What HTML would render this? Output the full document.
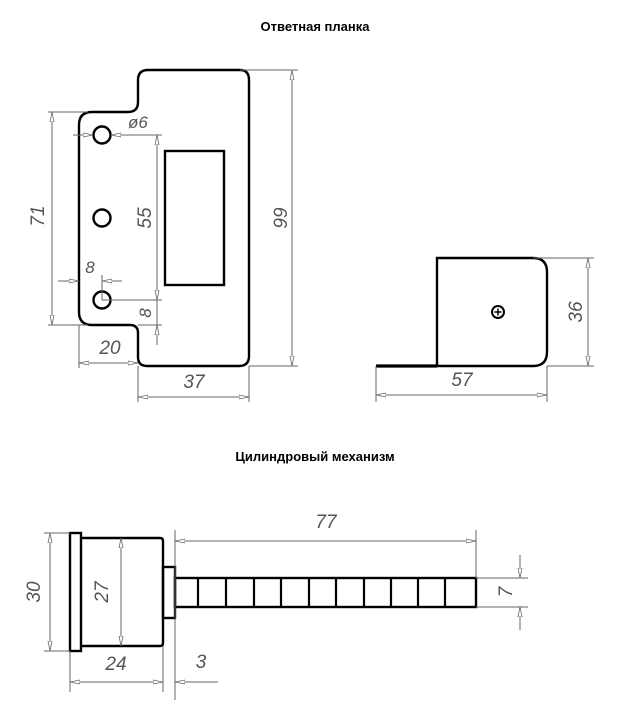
<!DOCTYPE html>
<html><head><meta charset="utf-8"><style>
html,body{margin:0;padding:0;background:#fff;}
svg{display:block;}
.t{font-family:"Liberation Sans",sans-serif;font-weight:bold;font-size:13px;fill:#000;}
.d{font-family:"Liberation Sans",sans-serif;font-style:italic;font-size:19px;fill:#555;}
.o{fill:none;stroke:#000;stroke-width:2.4;}
.l{fill:none;stroke:#666;stroke-width:1;}
</style></head><body>
<svg width="626" height="720" viewBox="0 0 626 720">
<defs>
<marker id="a" viewBox="0 0 10 6" refX="10" refY="3" markerWidth="10" markerHeight="6" orient="auto-start-reverse" markerUnits="userSpaceOnUse"><path d="M0,1 L10,3 L0,5 Z" fill="#fff" stroke="#666" stroke-width="0.8"/></marker>
</defs>
<text class="t" x="315" y="31" text-anchor="middle">Ответная планка</text>
<text class="t" x="315" y="461" text-anchor="middle">Цилиндровый механизм</text>

<!-- plate -->
<path class="o" d="M148,70 L240,70 Q249,70 249,80 L249,356 Q249,366 239,366 L147,366 Q138,366 138,357 L138,333 Q138,325 130,325 L92,325 Q79,325 79,312 L79,125 Q79,112 92,112 L128,112 Q138,112 138,102 L138,80 Q138,70 148,70 Z"/>
<circle class="o" cx="102" cy="135" r="8.5"/>
<circle class="o" cx="102" cy="218" r="8.5"/>
<circle class="o" cx="102" cy="300" r="8.5"/>
<rect class="o" x="165" y="151" width="59" height="134"/>
<!-- 71 -->
<path class="l" d="M48,112 H88 M48,325 H88"/>
<line class="l" x1="52" y1="112" x2="52" y2="325" marker-start="url(#a)" marker-end="url(#a)"/>
<text class="d" transform="translate(44,216) rotate(-90)" text-anchor="middle">71</text>
<!-- Ø6 -->
<line class="l" x1="73" y1="135" x2="93" y2="135" marker-end="url(#a)"/>
<line class="l" x1="111" y1="135" x2="162" y2="135" marker-start="url(#a)"/>
<text class="d" x="128" y="128" style="font-size:17px">ø6</text>
<!-- 55 -->
<path class="l" d="M102,300 H162"/>
<line class="l" x1="157" y1="135" x2="157" y2="300" marker-start="url(#a)" marker-end="url(#a)"/>
<text class="d" transform="translate(151,218) rotate(-90)" text-anchor="middle">55</text>
<!-- 8 vertical -->
<path class="l" d="M138,325 H162 M157,300 V345"/>
<line class="l" x1="157" y1="345" x2="157" y2="325" marker-end="url(#a)"/>
<text class="d" transform="translate(151,313) rotate(-90)" text-anchor="middle" style="font-size:17px">8</text>
<!-- 8 horizontal -->
<line class="l" x1="58" y1="281" x2="79" y2="281" marker-end="url(#a)"/>
<line class="l" x1="122" y1="281" x2="102" y2="281" marker-end="url(#a)"/>
<path class="l" d="M102,275 V300"/>
<text class="d" x="90" y="273" text-anchor="middle" style="font-size:17px">8</text>
<!-- 20 -->
<path class="l" d="M79,325 V368"/>
<line class="l" x1="79" y1="363" x2="138" y2="363" marker-start="url(#a)" marker-end="url(#a)"/>
<text class="d" x="110" y="354" text-anchor="middle">20</text>
<!-- 37 -->
<path class="l" d="M138,366 V402 M249,366 V402"/>
<line class="l" x1="138" y1="397" x2="249" y2="397" marker-start="url(#a)" marker-end="url(#a)"/>
<text class="d" x="194" y="388" text-anchor="middle">37</text>
<!-- 99 -->
<path class="l" d="M240,70 H298 M249,366 H298"/>
<line class="l" x1="292" y1="70" x2="292" y2="366" marker-start="url(#a)" marker-end="url(#a)"/>
<text class="d" transform="translate(287,218) rotate(-90)" text-anchor="middle">99</text>

<!-- side view -->
<path class="o" d="M437,366 V258 H533 Q547,258 547,272 V352 Q547,366 533,366 H437"/>
<line x1="376" y1="366" x2="437" y2="366" stroke="#000" stroke-width="3.2"/>
<circle cx="498" cy="312" r="6" fill="none" stroke="#000" stroke-width="2"/>
<path d="M494.5,312 H501.5 M498,308.5 V315.5" stroke="#000" stroke-width="1.5"/>
<path class="l" d="M533,258 H594 M547,366 H594"/>
<line class="l" x1="588" y1="258" x2="588" y2="366" marker-start="url(#a)" marker-end="url(#a)"/>
<text class="d" transform="translate(582,312) rotate(-90)" text-anchor="middle">36</text>
<path class="l" d="M376,366 V402 M547,366 V402"/>
<line class="l" x1="376" y1="395" x2="547" y2="395" marker-start="url(#a)" marker-end="url(#a)"/>
<text class="d" x="462" y="386" text-anchor="middle">57</text>

<!-- cylinder -->
<rect class="o" x="70" y="533" width="11" height="118"/>
<path class="o" d="M81,538 H160 Q163,538 163,541 V643 Q163,646 160,646 H81"/>
<rect class="o" x="163" y="567" width="12" height="51"/>
<rect class="o" x="175" y="578" width="301" height="29"/>
<path stroke="#000" stroke-width="2.2" d="M198,578V607M226,578V607M254,578V607M281,578V607M309,578V607M336,578V607M364,578V607M391,578V607M418,578V607M445,578V607"/>
<!-- 30 -->
<path class="l" d="M44,533 H70 M44,651 H70"/>
<line class="l" x1="50" y1="533" x2="50" y2="651" marker-start="url(#a)" marker-end="url(#a)"/>
<text class="d" transform="translate(40,592) rotate(-90)" text-anchor="middle">30</text>
<!-- 27 -->
<line class="l" x1="121" y1="538" x2="121" y2="646" marker-start="url(#a)" marker-end="url(#a)"/>
<text class="d" transform="translate(108,592) rotate(-90)" text-anchor="middle">27</text>
<!-- 77 -->
<path class="l" d="M175,530 V700 M476,530 V578"/>
<line class="l" x1="175" y1="541" x2="476" y2="541" marker-start="url(#a)" marker-end="url(#a)"/>
<text class="d" x="326" y="528" text-anchor="middle">77</text>
<!-- 7 -->
<path class="l" d="M476,578 H528 M476,607 H528"/>
<line class="l" x1="520" y1="555" x2="520" y2="578" marker-end="url(#a)"/>
<line class="l" x1="520" y1="630" x2="520" y2="607" marker-end="url(#a)"/>
<text class="d" transform="translate(512,592) rotate(-90)" text-anchor="middle">7</text>
<!-- 24 -->
<path class="l" d="M70,651 V692 M163,646 V692"/>
<line class="l" x1="70" y1="682" x2="163" y2="682" marker-start="url(#a)" marker-end="url(#a)"/>
<text class="d" x="116" y="670" text-anchor="middle">24</text>
<!-- 3 -->
<line class="l" x1="218" y1="682" x2="175" y2="682" marker-end="url(#a)"/>
<text class="d" x="201" y="668" text-anchor="middle">3</text>
</svg>
</body></html>
